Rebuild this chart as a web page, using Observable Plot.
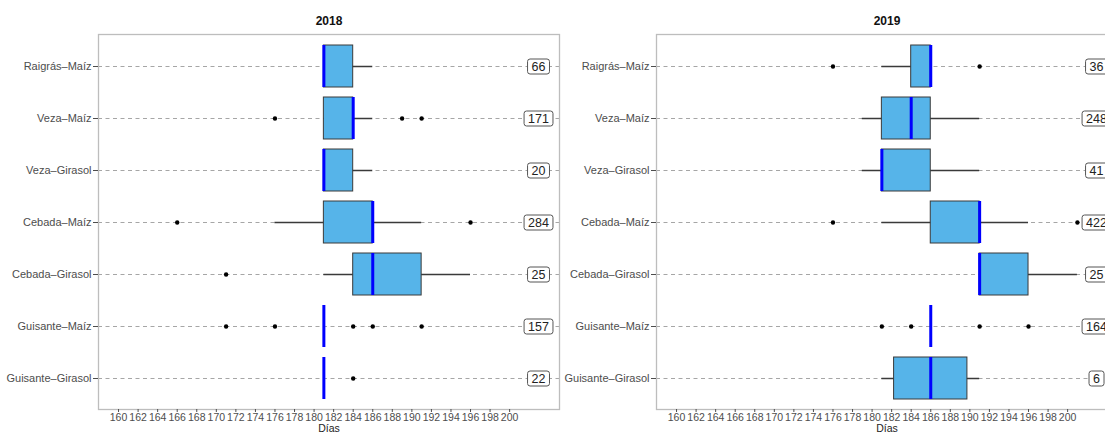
<!DOCTYPE html>
<html>
<head>
<meta charset="utf-8">
<script src="https://cdn.jsdelivr.net/npm/d3@7"></script>
<script src="https://cdn.jsdelivr.net/npm/@observablehq/plot@0.6"></script>
<style>
  html, body { margin: 0; padding: 0; background: white; }
  #c { position: relative; width: 1105px; height: 432px; overflow: hidden; background: white; }
  #c svg { position: absolute; top: 0; max-width: none; }
</style>
</head>
<body>
<div id="c"></div>
<script>
const categories = ["Raigrás–Maíz", "Veza–Maíz", "Veza–Girasol", "Cebada–Maíz", "Cebada–Girasol", "Guisante–Maíz", "Guisante–Girasol"];
const xTicks = [160,162,164,166,168,170,172,174,176,178,180,182,184,186,188,190,192,194,196,198,200];

// 2018
const lo2018  = [181, 181, 181, 176, 181, 181, 181];
const q1_2018 = [181, 181, 181, 181, 184, 181, 181];
const med2018 = [181, 184, 181, 186, 186, 181, 181];
const q3_2018 = [184, 184, 184, 186, 191, 181, 181];
const hi2018  = [186, 186, 186, 191, 196, 181, 181];
const n2018   = [66, 171, 20, 284, 25, 157, 22];
const out2018 = [[], [176, 189, 191], [], [166, 196], [171], [171, 176, 184, 186, 191], [184]];

// 2019
const lo2019  = [181, 179, 179, 181, 191, 186, 181];
const q1_2019 = [184, 181, 181, 186, 191, 186, 182.25];
const med2019 = [186, 184, 181, 191, 191, 186, 186];
const q3_2019 = [186, 186, 186, 191, 196, 186, 189.75];
const hi2019  = [186, 191, 191, 196, 201, 186, 191];
const n2019   = [36, 248, 41, 422, 25, 164, 6];
const out2019 = [[176, 191], [], [], [176, 201], [], [181, 184, 191, 196], []];

const FONT = "'Liberation Sans', Arial, Helvetica, sans-serif";

function makePlot(title, lo, q1, med, q3, hi, n, outs) {
  const rows = categories.map((c, i) => ({cat: c, lo: lo[i], q1: q1[i], med: med[i], q3: q3[i], hi: hi[i], n: String(n[i])}));
  const pts = categories.flatMap((c, i) => outs[i].map(v => ({cat: c, v})));
  return Plot.plot({
    width: 579,
    height: 432,
    marginLeft: 98,
    marginRight: 20,
    marginTop: 34,
    marginBottom: 23,
    style: {fontFamily: FONT, background: "transparent", overflow: "visible"},
    x: {domain: [157.95, 205.1]},
    y: {domain: categories, paddingInner: 0, paddingOuter: 0.1},
    marks: [
      Plot.ruleY(categories, {y: d => d, stroke: "#a6a6a6", strokeWidth: 1, strokeDasharray: "4,3.5"}),
      Plot.ruleY(rows, {y: "cat", x1: "lo", x2: "hi", stroke: "#3a3a3a", strokeWidth: 1.5}),
      Plot.barX(rows, {y: "cat", x1: "q1", x2: "q3", fill: "#56B4E9", stroke: "#3a3a3a", strokeWidth: 1, insetTop: 5, insetBottom: 5}),
      Plot.tickX(rows, {x: "med", y: "cat", stroke: "#0000ff", strokeWidth: 3, insetTop: 5, insetBottom: 5}),
      Plot.dot(pts, {x: "v", y: "cat", r: 2.2, fill: "black", stroke: null}),
      Plot.text(rows, {y: "cat", text: "n", frameAnchor: "right", dx: -21, textAnchor: "middle", fontSize: 12.5, fill: "#222", className: "nlabel"}),
      Plot.frame({stroke: "#bdbdbd", strokeWidth: 1.3}),
      Plot.axisX({ticks: xTicks, tickSize: 3, tickPadding: 1.5, fontSize: 10.5, color: "#4d4d4d", label: null}),
      Plot.axisY({tickSize: 5, tickPadding: 2, fontSize: 11, color: "#4d4d4d", label: null}),
      Plot.text(["Días"], {frameAnchor: "bottom", dy: 19.5, lineAnchor: "middle", fontSize: 10.5, fill: "#222"}),
      Plot.text([title], {frameAnchor: "top", dy: -13, lineAnchor: "middle", fontSize: 12, fontWeight: "bold", fill: "#111"})
    ]
  });
}

const c = document.getElementById("c");
const p1 = makePlot("2018", lo2018, q1_2018, med2018, q3_2018, hi2018, n2018, out2018);
const p2 = makePlot("2019", lo2019, q1_2019, med2019, q3_2019, hi2019, n2019, out2019);
p1.style.left = "0px";
p2.style.left = "558px";
c.appendChild(p1);
c.appendChild(p2);

// boxes around count labels
const NS = "http://www.w3.org/2000/svg";
for (const svg of [p1, p2]) {
  svg.querySelectorAll(".nlabel text").forEach(t => {
    const bb = t.getBBox();
    const r = document.createElementNS(NS, "rect");
    r.setAttribute("x", bb.x - 4);
    r.setAttribute("y", bb.y - 0.5);
    r.setAttribute("width", bb.width + 8);
    r.setAttribute("height", bb.height + 1);
    r.setAttribute("rx", 2.5);
    r.setAttribute("fill", "white");
    r.setAttribute("stroke", "#555");
    r.setAttribute("stroke-width", 1);
    const tr = t.getAttribute("transform");
    if (tr) r.setAttribute("transform", tr);
    t.parentNode.insertBefore(r, t);
  });
}
</script>
</body>
</html>
